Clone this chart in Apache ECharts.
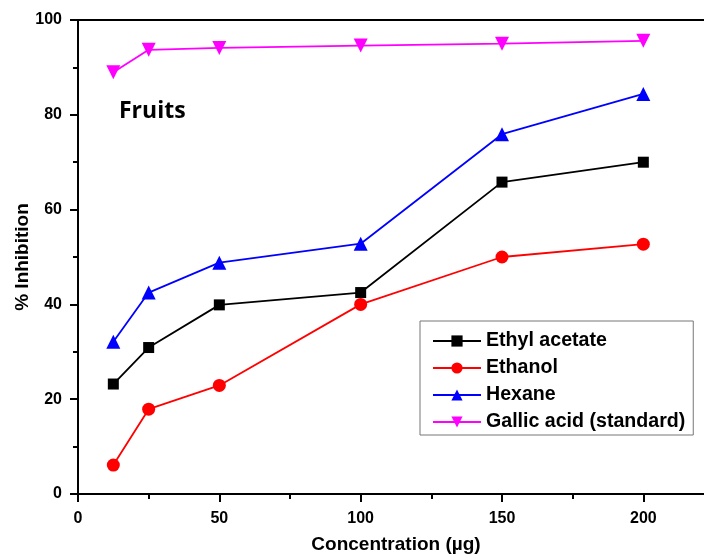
<!DOCTYPE html>
<html>
<head>
<meta charset="utf-8">
<script src="https://cdn.jsdelivr.net/npm/echarts@6/dist/echarts.min.js"></script>
<style>
  html, body { margin: 0; padding: 0; background: #fff; }
  #chart { width: 704px; height: 554px; }
</style>
</head>
<body>
<div id="chart"></div>
<script>
const concentrations = [12.5, 25, 50, 100, 150, 200];
const ethylAcetate = [23.2, 30.9, 39.9, 42.5, 65.8, 70.0];
const ethanol = [6.1, 17.9, 22.9, 40.0, 50.0, 52.7];
const hexane = [32.1, 42.5, 48.8, 52.8, 75.9, 84.4];
const gallicAcid = [89.0, 93.7, 94.1, 94.6, 95.0, 95.6];

const font = "Liberation Sans, Arial, sans-serif";

const chart = echarts.init(document.getElementById("chart"));

const pairs = (ys) => concentrations.map((x, i) => [x, ys[i]]);

const makeSeries = (name, ys, color, symbol, size) => ({
  name,
  type: "line",
  data: pairs(ys),
  symbol,
  symbolSize: size,
  lineStyle: { color, width: 1.8 },
  itemStyle: { color },
  z: 3
});

chart.setOption({
  animation: false,
  grid: {
    left: 78,
    top: 20,
    width: 636,
    height: 474,
    outerBoundsMode: "none",
    containLabel: false,
    show: true,
    borderColor: "#000",
    borderWidth: 2,
    backgroundColor: "transparent"
  },
  legend: {
    orient: "vertical",
    left: 420,
    top: 321,
    itemWidth: 48,
    itemHeight: 14,
    itemGap: 7,
    padding: [10, 8, 3, 12],
    borderColor: "#777",
    borderWidth: 1,
    backgroundColor: "#fff",
    textStyle: { fontFamily: font, fontWeight: "bold", fontSize: 19.6, lineHeight: 20, color: "#000" },
    data: ["Ethyl acetate", "Ethanol", "Hexane", "Gallic acid (standard)"]
  },
  graphic: [
    {
      type: "text",
      left: 119,
      top: 100,
      style: { text: "Fruits", font: "bold 23px 'Open Sans', sans-serif", fill: "#000" }
    }
  ],
  xAxis: {
    type: "value",
    min: 0,
    max: 225,
    interval: 50,
    name: "Concentration (µg)",
    nameLocation: "middle",
    nameGap: 41,
    nameMoveOverlap: false,
    nameTextStyle: { fontFamily: font, fontWeight: "bold", fontSize: 19, color: "#000" },
    axisLine: { lineStyle: { color: "#000", width: 2 } },
    axisTick: { inside: false, length: 8, lineStyle: { color: "#000", width: 2 } },
    minorTick: { show: true, splitNumber: 2, length: 5, lineStyle: { color: "#000", width: 2 } },
    axisLabel: {
      fontFamily: font, fontWeight: "bold", fontSize: 16, color: "#000", margin: 17,
      formatter: (v) => (v > 200 ? "" : String(v))
    },
    splitLine: { show: false }
  },
  yAxis: {
    type: "value",
    min: 0,
    max: 100,
    interval: 20,
    name: "% Inhibition",
    nameLocation: "middle",
    nameGap: 46,
    nameMoveOverlap: false,
    nameTextStyle: { fontFamily: font, fontWeight: "bold", fontSize: 19, color: "#000" },
    axisLine: { lineStyle: { color: "#000", width: 2 } },
    axisTick: { inside: false, length: 8, lineStyle: { color: "#000", width: 2 } },
    minorTick: { show: true, splitNumber: 2, length: 5, lineStyle: { color: "#000", width: 2 } },
    axisLabel: { fontFamily: font, fontWeight: "bold", fontSize: 16, color: "#000", margin: 16 },
    splitLine: { show: false }
  },
  series: [
    makeSeries("Ethyl acetate", ethylAcetate, "#000000", "rect", 11),
    makeSeries("Ethanol", ethanol, "#ff0000", "circle", 13),
    makeSeries("Hexane", hexane, "#0000ff", "triangle", 14),
    makeSeries("Gallic acid (standard)", gallicAcid, "#ff00ff", "path://M0,0 L10,0 L5,9 Z", 14)
  ]
});
</script>
</body>
</html>
